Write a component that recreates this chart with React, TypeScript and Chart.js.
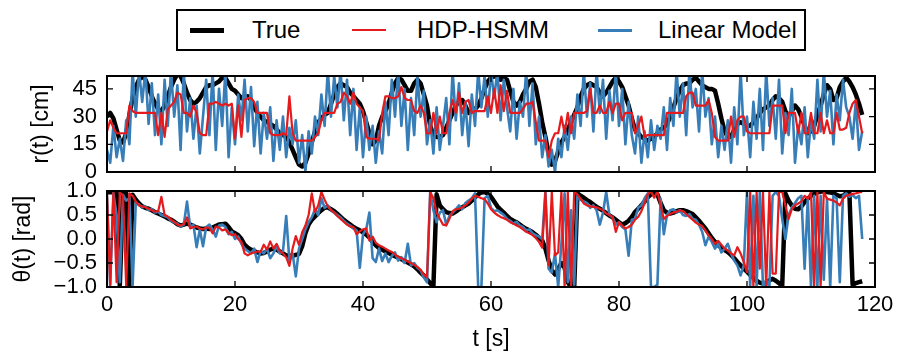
import React, { useEffect, useRef } from 'react';
import Chart from 'chart.js/auto';

// ---------- data (sampled every STEP seconds, starting at t = 0) ----------
const STEP = 0.5;
const X_TICKS = [0, 20, 40, 60, 80, 100, 120];
const R_TICKS = [0, 15, 30, 45];
const THETA_TICKS = [-1, -0.5, 0, 0.5, 1];
const SERIES_NAMES = ['True', 'HDP-HSMM', 'Linear Model'];

const R_TRUE = [
  30, 32, 29, 23, 17, 16, 21, 31, 40, 46, 50, 52, 50, 46, 41, 37, 34, 33, 36, 41,
  46, 50, 53, 52, 48, 43, 39, 37, 38, 40, 43, 46, 47, 47, 48, 49, 51, 51, 48, 45,
  44, 42, 40, 40, 41, 39, 35, 32, 30, 28, 27, 26, 25, 23, 21, 20, 19, 16, 12, 8,
  4, 3, 5, 10, 16, 22, 27, 29, 31, 32, 37, 42, 46, 48, 47, 46, 43, 41, 39, 37,
  33, 27, 21, 15, 17, 25, 30, 33, 37, 43, 48, 51, 50, 47, 44, 44, 48, 50, 48, 42,
  36, 25, 20, 19, 19, 20, 24, 28, 32, 36, 38, 39, 36, 32, 33, 34, 36, 40, 45, 49,
  51, 52, 51, 50, 51, 50, 44, 38, 36, 38, 42, 45, 49, 50, 46, 37, 27, 19, 10, 4,
  6, 11, 16, 19, 23, 27, 31, 35, 41, 45, 47, 48, 47, 46, 43, 41, 43, 46, 49, 51,
  49, 46, 41, 36, 29, 23, 21, 19, 18, 17, 18, 19, 21, 23, 24, 26, 30, 35, 40, 44,
  47, 48, 48, 50, 51, 49, 47, 46, 45, 45, 44, 37, 29, 22, 19, 19, 23, 26, 27, 26,
  25, 25, 27, 29, 32, 34, 35, 36, 39, 41, 40, 38, 33, 30, 33, 36, 34, 30, 25, 21,
  22, 25, 31, 36, 42, 47, 45, 39, 40, 46, 49, 51, 49, 46, 42, 37, 31,
];

const R_HSMM = [
  22, 28, 24, 21, 21, 21, 21, 36, 33, 32, 32, 32, 32, 32, 32, 32, 20, 32, 19, 34,
  36, 38, 43, 42, 32, 32, 30, 36, 32, 21, 20, 20, 37, 37, 38, 37, 36, 37, 36, 37,
  18, 36, 19, 39, 40, 40, 38, 32, 32, 32, 32, 21, 20, 20, 20, 21, 20, 41, 21, 17,
  17, 17, 17, 17, 17, 19, 21, 28, 32, 32, 32, 32, 37, 38, 43, 41, 37, 43, 37, 35,
  33, 19, 18, 18, 18, 17, 32, 41, 41, 40, 40, 41, 46, 40, 39, 39, 33, 32, 36, 32,
  21, 21, 32, 21, 30, 21, 21, 32, 39, 32, 43, 32, 38, 39, 32, 33, 33, 33, 33, 41,
  32, 45, 32, 47, 33, 44, 32, 32, 32, 32, 34, 37, 37, 38, 27, 17, 17, 17, 8, 17,
  21, 21, 30, 21, 32, 21, 32, 32, 32, 32, 33, 45, 32, 32, 36, 32, 32, 38, 32, 37,
  37, 28, 32, 32, 32, 21, 25, 30, 19, 20, 20, 20, 20, 20, 20, 32, 32, 32, 32, 32,
  32, 41, 43, 43, 36, 36, 36, 36, 39, 32, 19, 17, 17, 17, 17, 30, 19, 28, 30, 30,
  22, 21, 21, 21, 21, 21, 21, 21, 36, 36, 36, 36, 21, 32, 32, 32, 21, 32, 21, 21,
  32, 21, 21, 32, 21, 28, 21, 21, 32, 23, 23, 24, 32, 37, 39, 30, 21,
];

const R_LINEAR = [
  12, 5, 25, 8, 18, 6, 28, 15, 55, 30, 55, 38, 55, 26, 48, 20, 42, 15, 50, 25,
  55, 30, 47, 12, 55, 22, 40, 18, 36, 10, 30, 50, 20, 55, 12, 45, 25, 55, 8, 35,
  15, 42, 28, 50, 22, 46, 14, 38, 10, 32, 18, 35, 6, 28, 12, 30, 8, 24, 15, 28,
  5, 20, 0, 22, 10, 30, 20, 42, 25, 55, 30, 52, 35, 55, 28, 50, 20, 45, 12, 35,
  8, 30, 12, 25, 5, 22, 10, 38, 20, 50, 30, 55, 25, 45, 12, 40, 20, 52, 30, 44,
  15, 28, 10, 35, 12, 25, 40, 15, 55, 28, 48, 20, 38, 14, 42, 25, 55, 35, 52, 30,
  55, 40, 55, 28, 50, 35, 22, 45, 18, 38, 30, 55, 25, 48, 15, 30, 8, 20, 3, 12,
  0, 18, 8, 25, 12, 30, 18, 42, 25, 55, 30, 48, 22, 55, 32, 50, 18, 44, 28, 55,
  25, 45, 15, 38, 20, 10, 30, 5, 22, 8, 28, 12, 25, 18, 35, 12, 40, 25, 55, 30,
  48, 20, 55, 35, 45, 22, 55, 30, 40, 15, 30, 8, 25, 12, 28, 5, 35, 15, 55, 20,
  30, 8, 38, 18, 45, 12, 55, 25, 40, 18, 50, 10, 32, 20, 45, 5, 25, 15, 35, 8,
  28, 18, 50, 22, 55, 30, 44, 15, 42, 28, 50, 35, 30, 18, 38, 12, 22,
];

const TH_TRUE = [
  0.97, 0.98, 0.97, 0.98, -0.98, 0.97, 0.95, -0.98, 0.92, 0.82, 0.74, 0.68, 0.65, 0.63, 0.6, 0.56, 0.53, 0.5, 0.47, 0.43,
  0.4, 0.36, 0.31, 0.28, 0.3, 0.32, 0.3, 0.27, 0.24, 0.22, 0.21, 0.22, 0.21, 0.24, 0.27, 0.3, 0.31, 0.32, 0.25, 0.16,
  0.12, 0.08, 0.0, -0.12, -0.18, -0.22, -0.25, -0.28, -0.3, -0.29, -0.26, -0.22, -0.2, -0.22, -0.26, -0.3, -0.34, -0.35, -0.35, -0.33,
  -0.31, -0.15, 0.12, 0.3, 0.4, 0.47, 0.54, 0.6, 0.65, 0.66, 0.62, 0.58, 0.52, 0.46, 0.4, 0.35, 0.3, 0.25, 0.21, 0.18,
  0.14, 0.09, 0.03, -0.06, -0.13, -0.19, -0.22, -0.26, -0.29, -0.33, -0.36, -0.39, -0.42, -0.46, -0.49, -0.53, -0.57, -0.63, -0.7, -0.76,
  -0.84, -0.92, -0.99, 0.93, 0.7, 0.62, 0.56, 0.54, 0.53, 0.57, 0.62, 0.66, 0.7, 0.74, 0.8, 0.87, 0.93, 0.97, 0.98, 0.94,
  0.88, 0.78, 0.68, 0.61, 0.55, 0.48, 0.42, 0.38, 0.35, 0.3, 0.25, 0.21, 0.18, 0.14, 0.09, 0.03, -0.03, -0.2, -0.45, -0.65,
  -0.74, -0.62, -0.5, -0.6, -0.9, -1.0, -1.0, 0.95, 0.9, 0.86, 0.81, 0.77, 0.72, 0.67, 0.63, 0.59, 0.54, 0.49, 0.45, 0.4,
  0.35, 0.3, 0.33, 0.38, 0.46, 0.56, 0.63, 0.7, 0.78, 0.87, 0.93, 0.95, 0.93, 0.75, 0.6, 0.55, 0.53, 0.55, 0.58, 0.6,
  0.6, 0.58, 0.55, 0.52, 0.45, 0.38, 0.3, 0.22, 0.12, 0.02, -0.06, -0.13, -0.18, -0.23, -0.27, -0.33, -0.4, -0.48, -0.55, -0.62,
  -0.68, -0.75, -0.81, -0.87, -0.91, -0.93, -0.92, -0.86, -0.83, -0.87, -0.92, -0.98, 0.95, 0.8, 0.7, 0.63, 0.62, 0.68, 0.77, 0.84,
  0.9, 0.94, 0.97, 0.99, 0.99, 0.98, 0.97, 0.95, 0.92, 0.89, 0.9, 0.95, 0.96, -0.95, -0.92, -0.9, -0.88,
];

const TH_HSMM = [
  0.95, -0.95, 0.98, -0.9, 0.97, 0.9, -0.98, 0.95, 0.9, 0.78, 0.7, 0.68, 0.66, 0.63, 0.6, 0.57, 0.58, 0.88, 0.5, 0.47,
  0.4, 0.36, 0.3, 0.28, 0.31, 0.45, 0.22, 0.25, 0.26, 0.22, 0.2, 0.24, 0.23, 0.12, 0.26, 0.24, 0.18, 0.2, 0.12, 0.08,
  0.1, 0.0, -0.06, -0.3, -0.34, -0.3, -0.28, -0.26, -0.27, -0.12, -0.22, -0.05, -0.2, -0.1, -0.25, -0.3, -0.38, -0.56, -0.2, 0.06,
  -0.12, 0.14, 0.28, 0.5, 0.95, 0.56, 0.7, 0.98, 0.82, 0.68, 0.6, 0.55, 0.48, 0.42, 0.36, 0.3, 0.26, 0.25, 0.1, 0.16,
  0.2, 0.22, -0.03, 0.05, -0.08, -0.13, -0.16, -0.2, -0.24, -0.27, -0.32, -0.37, -0.4, -0.43, -0.47, -0.5, -0.54, -0.58, -0.64, -0.74,
  -0.8, 0.98, 0.85, 0.55, 0.42, 0.3, 0.28, 0.42, 0.58, 0.62, 0.63, 0.66, 0.7, 0.76, 0.84, 0.9, 0.88, 0.85, 0.83, 0.74,
  0.62, 0.55, 0.5, 0.46, 0.43, 0.4, 0.35, 0.32, 0.28, 0.25, 0.2, 0.15, 0.12, 0.08, 0.02, -0.06, -0.18, 0.98, -0.55, 0.98,
  -0.34, -0.28, 0.98, -1.0, 0.98, -1.0, 0.98, 0.93, 0.84, 0.74, 0.7, 0.68, 0.67, 0.66, 0.63, 0.6, 0.53, 0.5, 0.46, 0.15,
  0.35, 0.28, 0.22, 0.25, 0.3, 0.4, 0.46, 0.58, 0.75, 0.93, 0.99, 0.86, 0.99, 0.7, 0.42, 0.48, 0.52, 0.55, 0.57, 0.6,
  0.58, 0.52, 0.46, 0.4, 0.34, 0.3, 0.27, 0.18, 0.08, 0.0, -0.1, -0.04, -0.12, -0.2, -0.24, -0.3, -0.34, -0.17, -0.3, -0.48,
  -0.69, 0.98, -1.0, 0.98, -0.62, 0.98, -1.0, 0.98, -0.72, -0.72, 0.98, 0.98, 0.7, 0.42, 0.62, 0.7, 0.74, 0.78, 0.9, 0.84,
  0.98, -1.0, 0.98, -1.0, 0.98, 0.84, 0.82, 0.8, 0.76, 0.7, 0.84, 0.9, 0.92, 0.94, 0.95, 0.97, 0.98,
];

const TH_LINEAR = [
  0.9, -0.98, 0.95, 0.5, -0.9, 0.92, 0.8, 0.85, -0.98, 0.75, 0.72, 0.66, 0.68, 0.6, 0.62, 0.55, 0.57, 0.5, 0.48, 0.45,
  0.38, 0.35, 0.32, 0.26, 0.3, 0.78, 0.25, 0.3, -0.17, 0.2, -0.15, 0.25, 0.3, 0.2, 0.05, 0.28, 0.3, 0.25, 0.1, 0.15,
  0.0, 0.05, -0.1, -0.2, -0.25, -0.3, -0.2, -0.48, -0.25, -0.3, -0.2, -0.4, -0.3, -0.15, -0.3, -0.25, 0.48, -0.45, -0.3, -0.78,
  -0.2, 0.0, 0.2, 0.35, 0.45, 0.62, 0.5, 0.85, 0.65, 0.7, 0.6, 0.55, 0.5, 0.45, 0.38, 0.32, 0.28, 0.22, 0.18, -0.6,
  0.1, 0.2, 0.55, -0.4, -0.48, -0.2, -0.46, -0.3, -0.48, -0.35, -0.28, -0.45, -0.38, -0.5, -0.1, -0.55, -0.5, -0.6, -0.65, -0.8,
  -0.9, 0.98, 0.6, 0.35, 0.55, 0.6, 0.3, 0.48, 0.55, 0.62, 0.7, 0.62, 0.75, 0.8, 0.85, 0.95, -1.0, -1.0, 0.85, 0.9,
  0.65, 0.58, 0.6, 0.55, 0.5, 0.42, 0.38, 0.32, 0.36, 0.28, 0.25, 0.18, 0.2, 0.12, 0.08, 0.05, 0.0, 0.98, -0.62, -0.7,
  -0.3, -1.0, -0.1, 0.95, -0.9, 0.6, -0.95, 0.9, 0.82, 0.78, 0.75, 0.65, 0.7, 0.6, 0.3, 0.55, 0.98, 0.5, 0.45, 0.3,
  0.35, 0.25, 0.2, -0.35, 0.4, 0.42, 0.65, 0.7, 0.85, 0.95, -1.0, -1.0, -0.95, 0.84, 0.1, 0.5, 0.6, 0.62, 0.55, 0.6,
  0.5, 0.48, 0.52, 0.42, 0.4, 0.3, 0.15, -0.13, 0.05, -0.06, -0.2, -0.1, -0.28, -0.2, -0.1, -0.3, -0.45, -0.55, -0.76, -0.55,
  0.98, -1.0, 0.9, -1.0, 0.98, -1.0, -0.85, -1.0, 0.9, 0.98, 0.9, 0.42, 0.0, 0.5, 0.65, 0.75, 0.85, 0.9, -0.62, 0.85,
  -1.0, 0.9, -1.0, 0.9, -0.85, 0.85, -1.0, 0.9, 0.85, -0.9, 0.9, 0.95, 0.88, 0.92, 0.85, 0.9, 0.0,
];

// ---------- styling ----------
const FONT = "'Liberation Sans', Arial, Helvetica, sans-serif";
const COLORS = ['#000000', '#e41a1c', '#377eb8'];
const WIDTHS = [4.5, 2.2, 2.6];
const ORDERS = [3, 1, 2];

const toPoints = (values: number[]) => values.map((v, i) => ({ x: i * STEP, y: v }));

const makeFrame = (yTicks: number[]) => ({
  id: 'frameTicks',
  afterDatasetsDraw(chart: any) {
    const { ctx, chartArea: a, scales } = chart;
    ctx.save();
    ctx.strokeStyle = '#000';
    ctx.lineWidth = 1.3;
    const L = 6;
    ctx.beginPath();
    for (const v of X_TICKS) {
      const x = scales.x.getPixelForValue(v);
      ctx.moveTo(x, a.bottom);
      ctx.lineTo(x, a.bottom - L);
      ctx.moveTo(x, a.top);
      ctx.lineTo(x, a.top + L);
    }
    for (const v of yTicks) {
      const y = scales.y.getPixelForValue(v);
      ctx.moveTo(a.left, y);
      ctx.lineTo(a.left + L, y);
      ctx.moveTo(a.right, y);
      ctx.lineTo(a.right - L, y);
    }
    ctx.stroke();
    ctx.lineWidth = 2;
    ctx.strokeRect(a.left, a.top, a.right - a.left, a.bottom - a.top);
    ctx.restore();
  },
});

const makeDatasets = (series: number[][]) =>
  series.map((vals, k) => ({
    label: SERIES_NAMES[k],
    data: toPoints(vals),
    borderColor: COLORS[k],
    backgroundColor: COLORS[k],
    borderWidth: WIDTHS[k],
    pointRadius: 0,
    tension: 0,
    fill: false,
    borderJoinStyle: 'round' as const,
    order: ORDERS[k],
    clip: 1,
  }));

const tickFont = { family: FONT, size: 22 };
const titleFont = { family: FONT, size: 23, lineHeight: 1 };

const zeroPadding = (s: any) => {
  s.paddingTop = 0;
  s.paddingBottom = 0;
  s.paddingLeft = 0;
  s.paddingRight = 0;
};

function buildConfig(panel: 'r' | 'theta'): any {
  const isTop = panel === 'r';
  const yTicks = isTop ? R_TICKS : THETA_TICKS;
  const series = isTop ? [R_TRUE, R_HSMM, R_LINEAR] : [TH_TRUE, TH_HSMM, TH_LINEAR];
  return {
    type: 'line',
    data: { datasets: makeDatasets(series) },
    plugins: [makeFrame(yTicks)],
    options: {
      responsive: false,
      animation: false,
      devicePixelRatio: 1,
      events: [],
      layout: {
        autoPadding: false,
        padding: isTop
          ? { top: 76, bottom: 8, left: 0, right: 25 }
          : { top: 11, bottom: 0, left: 0, right: 25 },
      },
      plugins: { legend: { display: false }, tooltip: { enabled: false } },
      scales: {
        x: {
          type: 'linear',
          min: 0,
          max: 120,
          display: !isTop,
          afterBuildTicks: (s: any) => {
            s.ticks = X_TICKS.map((v) => ({ value: v }));
          },
          afterFit: (s: any) => {
            s.height = isTop ? 0 : 69;
            zeroPadding(s);
          },
          grid: { display: false, drawTicks: false },
          border: { display: false },
          ticks: {
            font: tickFont,
            color: '#000',
            padding: 5,
            maxRotation: 0,
            autoSkip: false,
            callback: (v: number) => String(v),
          },
          title: {
            display: true,
            text: 't [s]',
            color: '#000',
            font: titleFont,
            padding: { top: 0, bottom: 5 },
          },
        },
        y: {
          type: 'linear',
          min: isTop ? 0 : -1,
          max: isTop ? 52 : 1,
          afterBuildTicks: (s: any) => {
            s.ticks = yTicks.map((v) => ({ value: v }));
          },
          afterFit: (s: any) => {
            s.width = 107;
            zeroPadding(s);
          },
          grid: { display: false, drawTicks: false },
          border: { display: false },
          ticks: {
            font: tickFont,
            color: '#000',
            padding: 10,
            autoSkip: false,
            callback: (v: number) =>
              isTop ? String(v) : v.toFixed(1).replace('-', '\u2212'),
          },
          title: {
            display: true,
            text: isTop ? 'r(t) [cm]' : '\u03b8(t) [rad]',
            color: '#000',
            font: titleFont,
            padding: { top: isTop ? 30 : 12, bottom: 0 },
          },
        },
      },
    },
  };
}

// legend geometry (relative to the legend box)
const LEGEND_SAMPLE_X = [12, 174, 420];
const LEGEND_TEXT_X = [74, 239, 480];
const LEGEND_SAMPLE_H = [5, 2.5, 3];

export default function App() {
  const topRef = useRef<HTMLCanvasElement | null>(null);
  const botRef = useRef<HTMLCanvasElement | null>(null);

  useEffect(() => {
    const charts: Chart[] = [];
    if (topRef.current) charts.push(new Chart(topRef.current, buildConfig('r')));
    if (botRef.current) charts.push(new Chart(botRef.current, buildConfig('theta')));
    return () => charts.forEach((c) => c.destroy());
  }, []);

  return (
    <div style={{ position: 'absolute', left: 0, top: 0, width: 900, height: 356, background: '#fff' }}>
      <canvas ref={topRef} width={900} height={180} style={{ position: 'absolute', left: 0, top: 0 }} />
      <canvas ref={botRef} width={900} height={176} style={{ position: 'absolute', left: 0, top: 180 }} />
      <div
        style={{
          position: 'absolute',
          left: 176,
          top: 9,
          width: 630,
          height: 42,
          boxSizing: 'border-box',
          border: '2px solid #000',
          background: '#fff',
          fontFamily: FONT,
          fontSize: 24,
          color: '#000',
        }}
      >
        {SERIES_NAMES.map((name, k) => (
          <React.Fragment key={name}>
            <div
              style={{
                position: 'absolute',
                left: LEGEND_SAMPLE_X[k],
                top: 19 - LEGEND_SAMPLE_H[k] / 2,
                width: 34,
                height: LEGEND_SAMPLE_H[k],
                background: COLORS[k],
              }}
            />
            <div
              style={{
                position: 'absolute',
                left: LEGEND_TEXT_X[k],
                top: 0,
                height: 38,
                lineHeight: '38px',
                whiteSpace: 'nowrap',
              }}
            >
              {name}
            </div>
          </React.Fragment>
        ))}
      </div>
    </div>
  );
}
